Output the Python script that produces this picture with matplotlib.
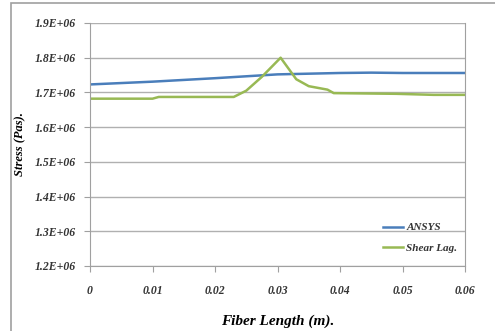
import matplotlib
matplotlib.use("Agg")
import matplotlib.pyplot as plt
from matplotlib.patches import Rectangle
from matplotlib.ticker import FuncFormatter

ansys_x = [0, 0.01, 0.02, 0.03, 0.04, 0.045, 0.05, 0.06]
ansys_y = [1.723e6, 1.731e6, 1.741e6, 1.752e6, 1.756e6, 1.757e6, 1.756e6, 1.756e6]

shear_x = [0, 0.01, 0.011, 0.023, 0.025, 0.0275, 0.0305, 0.033, 0.035, 0.038, 0.039, 0.049, 0.055, 0.06]
shear_y = [1.682e6, 1.682e6, 1.687e6, 1.687e6, 1.705e6, 1.745e6, 1.800e6, 1.738e6, 1.718e6,
           1.708e6, 1.698e6, 1.696e6, 1.693e6, 1.693e6]

x_ticks = [0, 0.01, 0.02, 0.03, 0.04, 0.05, 0.06]
x_labels = ["0", "0.01", "0.02", "0.03", "0.04", "0.05", "0.06"]
y_ticks = [1.2e6, 1.3e6, 1.4e6, 1.5e6, 1.6e6, 1.7e6, 1.8e6, 1.9e6]

font = dict(family="Liberation Serif", style="italic", weight="bold")

fig = plt.figure(figsize=(4.95, 3.31), dpi=100)
fig.patches.append(Rectangle((11/495, -0.1), 1.2, (331-3)/331 + 0.1, transform=fig.transFigure,
                             fill=False, edgecolor="#a0a0a0", linewidth=1.2))
ax = fig.add_axes([90/495, 65/331, 375/495, 243/331])

ax.plot(ansys_x, ansys_y, color="#4a7ebb", linewidth=1.8, label="ANSYS")
ax.plot(shear_x, shear_y, color="#98b954", linewidth=1.8, label="Shear Lag.")

ax.set_xlim(0, 0.06)
ax.set_ylim(1.2e6, 1.9e6)
ax.set_xticks(x_ticks)
ax.set_xticklabels(x_labels)
ax.set_yticks(y_ticks)
ax.yaxis.set_major_formatter(FuncFormatter(lambda v, p: "%.1fE+06" % (v / 1e6)))

for lbl in ax.get_xticklabels() + ax.get_yticklabels():
    lbl.set_fontfamily("Liberation Serif")
    lbl.set_fontstyle("italic")
    lbl.set_fontweight("bold")
    lbl.set_fontsize(8.5)
    lbl.set_color("#333333")

ax.grid(axis="y", color="#b0b0b0", linewidth=1)
ax.set_axisbelow(True)
for s in ["left", "bottom", "right", "top"]:
    ax.spines[s].set_color("#a0a0a0")
ax.spines["top"].set_visible(False)
ax.tick_params(axis="both", direction="out", length=4, color="#a0a0a0", pad=6)
ax.tick_params(axis="x", pad=10)

ax.set_xlabel("Fiber Length (m).", fontsize=11, labelpad=12, **font)
ax.set_ylabel("Stress (Pas).", fontsize=9, labelpad=6, **font)

leg = ax.legend(loc="lower right", frameon=False, prop=dict(family="Liberation Serif", style="italic",
                weight="bold", size=8), handlelength=1.8, handletextpad=0.3, labelspacing=1.0,
                borderaxespad=0.3, bbox_to_anchor=(1.0, 0.02))
for t in leg.get_texts():
    t.set_color("#333333")

fig.savefig("out.png", dpi=100)
